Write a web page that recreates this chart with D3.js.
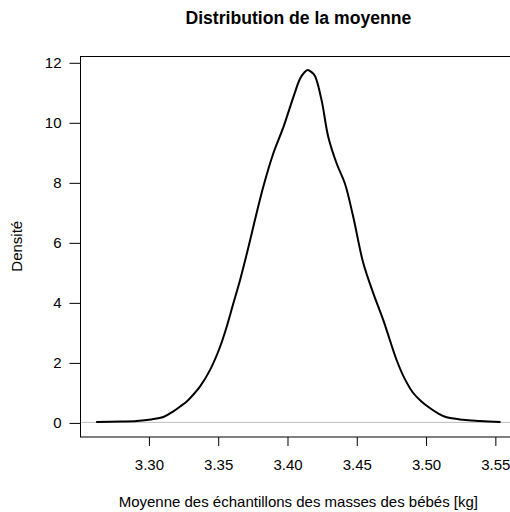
<!DOCTYPE html>
<html>
<head>
<meta charset="utf-8">
<script src="https://cdn.jsdelivr.net/npm/d3@7"></script>
<style>
  body { margin: 0; background: #fff; }
  svg { display: block; }
  text { font-family: "Liberation Sans", Arial, Helvetica, sans-serif; fill: #000; }
</style>
</head>
<body>
<svg id="chart" width="510" height="512"></svg>
<script>
// Density estimate of the sample mean
const xVals = [3.2623, 3.2800, 3.2916, 3.3020, 3.3108, 3.3180, 3.3229, 3.3277, 3.3325, 3.3373,
               3.3445, 3.3518, 3.3565, 3.3610, 3.3661, 3.3710, 3.3757, 3.3829, 3.3901, 3.3974,
               3.4046, 3.4094, 3.4125, 3.4149, 3.4175, 3.4202, 3.4250, 3.4298, 3.4359, 3.4418,
               3.4478, 3.4551, 3.4623, 3.4695, 3.4791, 3.4850, 3.4911, 3.4970, 3.5031, 3.5090,
               3.5152, 3.5272, 3.5392, 3.5541];
const yVals = [0.01, 0.03, 0.05, 0.10, 0.18, 0.37, 0.53, 0.70, 0.93, 1.20,
               1.75, 2.53, 3.19, 3.92, 4.74, 5.62, 6.52, 7.85, 8.96, 9.84,
               10.84, 11.45, 11.66, 11.74, 11.68, 11.54, 10.73, 9.51, 8.62, 7.96,
               6.85, 5.30, 4.30, 3.41, 2.08, 1.45, 0.98, 0.70, 0.48, 0.30,
               0.17, 0.09, 0.05, 0.01];
const xTicks = [3.30, 3.35, 3.40, 3.45, 3.50, 3.55];
const yTicks = [0, 2, 4, 6, 8, 10, 12];
const title = "Distribution de la moyenne";
const xTitle = "Moyenne des échantillons des masses des bébés [kg]";
const yTitle = "Densité";

const svg = d3.select("#chart");
const pLeft = 80, pRight = 516.7, pTop = 56, pBottom = 436.5;

const xMin = d3.min(xVals), xMax = d3.max(xVals);
const xPad = (xMax - xMin) * 0.04;
const yMax = d3.max(yVals);
const yPad = yMax * 0.04;

const x = d3.scaleLinear().domain([xMin - xPad, xMax + xPad]).range([pLeft, pRight]);
const y = d3.scaleLinear().domain([-yPad, yMax + yPad]).range([pBottom, pTop]);

const fontSize = 15;

// zero reference line
svg.append("line")
  .attr("x1", pLeft).attr("x2", pRight)
  .attr("y1", y(0)).attr("y2", y(0))
  .attr("stroke", "#bebebe").attr("stroke-width", 1);

// density curve
const pts = xVals.map((v, i) => [v, yVals[i]]);
svg.append("path")
  .datum(pts)
  .attr("d", d3.line().x(d => x(d[0])).y(d => y(d[1])).curve(d3.curveCatmullRom.alpha(0.5)))
  .attr("fill", "none").attr("stroke", "#000").attr("stroke-width", 2)
  .attr("stroke-linejoin", "round");

// box
svg.append("rect")
  .attr("x", pLeft + 0.5).attr("y", pTop + 0.5)
  .attr("width", pRight - pLeft).attr("height", pBottom - pTop)
  .attr("fill", "none").attr("stroke", "#000").attr("stroke-width", 1);

// x axis
const xAxis = d3.axisBottom(x).tickValues(xTicks).tickFormat(d3.format(".2f")).tickSize(9).tickPadding(13);
const gx = svg.append("g").attr("transform", `translate(0.5,${pBottom + 0.5})`).call(xAxis);
gx.select(".domain").remove();
gx.selectAll("text").attr("font-size", fontSize).attr("font-family", "Liberation Sans, Arial, sans-serif");

// y axis
const yAxis = d3.axisLeft(y).tickValues(yTicks).tickFormat(d3.format("d")).tickSize(11).tickPadding(8);
const gy = svg.append("g").attr("transform", `translate(${pLeft + 0.5},0.5)`).call(yAxis);
gy.select(".domain").remove();
gy.selectAll("text").attr("font-size", fontSize).attr("font-family", "Liberation Sans, Arial, sans-serif");

// titles
svg.append("text")
  .attr("x", (pLeft + pRight) / 2).attr("y", 24)
  .attr("text-anchor", "middle").attr("font-weight", "bold")
  .attr("font-size", 17.6).text(title);

svg.append("text")
  .attr("x", (pLeft + pRight) / 2).attr("y", 507)
  .attr("text-anchor", "middle").attr("font-size", fontSize).text(xTitle);

svg.append("text")
  .attr("transform", `translate(22,${(pTop + pBottom) / 2}) rotate(-90)`)
  .attr("text-anchor", "middle").attr("font-size", fontSize).text(yTitle);
</script>
</body>
</html>
